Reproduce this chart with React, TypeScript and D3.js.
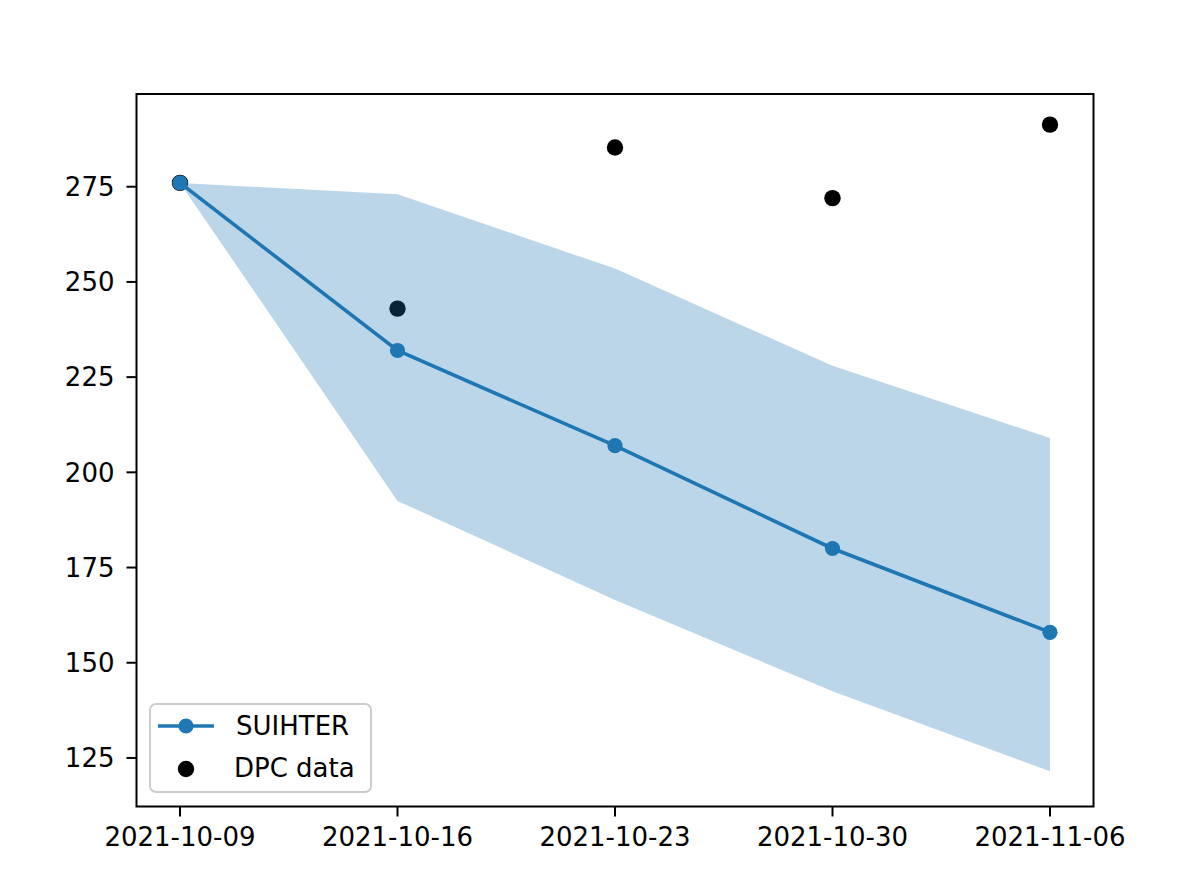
import * as d3 from "d3";
import React from "react";

const dates = ["2021-10-09", "2021-10-16", "2021-10-23", "2021-10-30", "2021-11-06"];
const suihter = [276, 232, 207, 180, 158];
const upper = [276, 273, 253.5, 228, 209];
const lower = [276, 192.5, 166.5, 142.5, 121.5];
const dpc = [276, 243, 285.3, 272, 291.3];
const yTicks = [125, 150, 175, 200, 225, 250, 275];

const W = 1196;
const H = 887;
const left = 136.5;
const right = 1093.5;
const top = 94;
const bottom = 806.5;
const blue = "#1f77b4";
const font = "DejaVu Sans, sans-serif";

const App = () => {
  const parse = d3.utcParse("%Y-%m-%d");
  const xs = dates.map((d) => parse(d));
  const day = 24 * 3600 * 1000;
  const x = d3
    .scaleUtc()
    .domain([new Date(+xs[0] - 1.4 * day), new Date(+xs[xs.length - 1] + 1.4 * day)])
    .range([left, right]);
  const y = d3.scaleLinear().domain([112.25, 299.35]).range([bottom, top]);

  const area = d3
    .area<number>()
    .x((_, i) => x(xs[i]))
    .y0((_, i) => y(lower[i]))
    .y1((_, i) => y(upper[i]));
  const line = d3
    .line<number>()
    .x((_, i) => x(xs[i]))
    .y((d) => y(d));

  return (
    <svg width={W} height={H} style={{ position: "fixed", top: 0, left: 0, background: "white" }} fontFamily={font}>
      {/* DPC scatter drawn first, band lies over it */}
      {dpc.map((v, i) => (
        <circle key={"d" + i} cx={x(xs[i])} cy={y(v)} r={8.2} fill="black" />
      ))}
      <path d={line(suihter)} fill="none" stroke={blue} strokeWidth={3.6} />
      {suihter.map((v, i) => (
        <circle key={"s" + i} cx={x(xs[i])} cy={y(v)} r={7.6} fill={blue} />
      ))}
      <path d={area(upper)} fill={blue} fillOpacity={0.3} />

      {/* axes frame */}
      <rect x={left} y={top} width={right - left} height={bottom - top} fill="none" stroke="black" strokeWidth={2} />

      {yTicks.map((t) => (
        <g key={"y" + t}>
          <line x1={left - 10} x2={left} y1={y(t)} y2={y(t)} stroke="black" strokeWidth={2} />
          <text x={left - 22} y={y(t)} dy="0.36em" textAnchor="end" fontSize={26} fill="black">
            {t}
          </text>
        </g>
      ))}
      {xs.map((d, i) => (
        <g key={"x" + i}>
          <line x1={x(d)} x2={x(d)} y1={bottom} y2={bottom + 10} stroke="black" strokeWidth={2} />
          <text x={x(d)} y={846} textAnchor="middle" fontSize={26} fill="black">
            {dates[i]}
          </text>
        </g>
      ))}

      {/* legend */}
      <rect x={150} y={704} width={221} height={88} rx={6} fill="white" fillOpacity={0.8} stroke="#cccccc" strokeWidth={2} />
      <line x1={158} x2={214} y1={726} y2={726} stroke={blue} strokeWidth={3.6} />
      <circle cx={186} cy={726} r={7.6} fill={blue} />
      <text x={236} y={735} fontSize={26} fill="black">SUIHTER</text>
      <circle cx={186} cy={769} r={8.2} fill="black" />
      <text x={234} y={777} fontSize={26} fill="black">DPC data</text>
    </svg>
  );
};

export default App;
